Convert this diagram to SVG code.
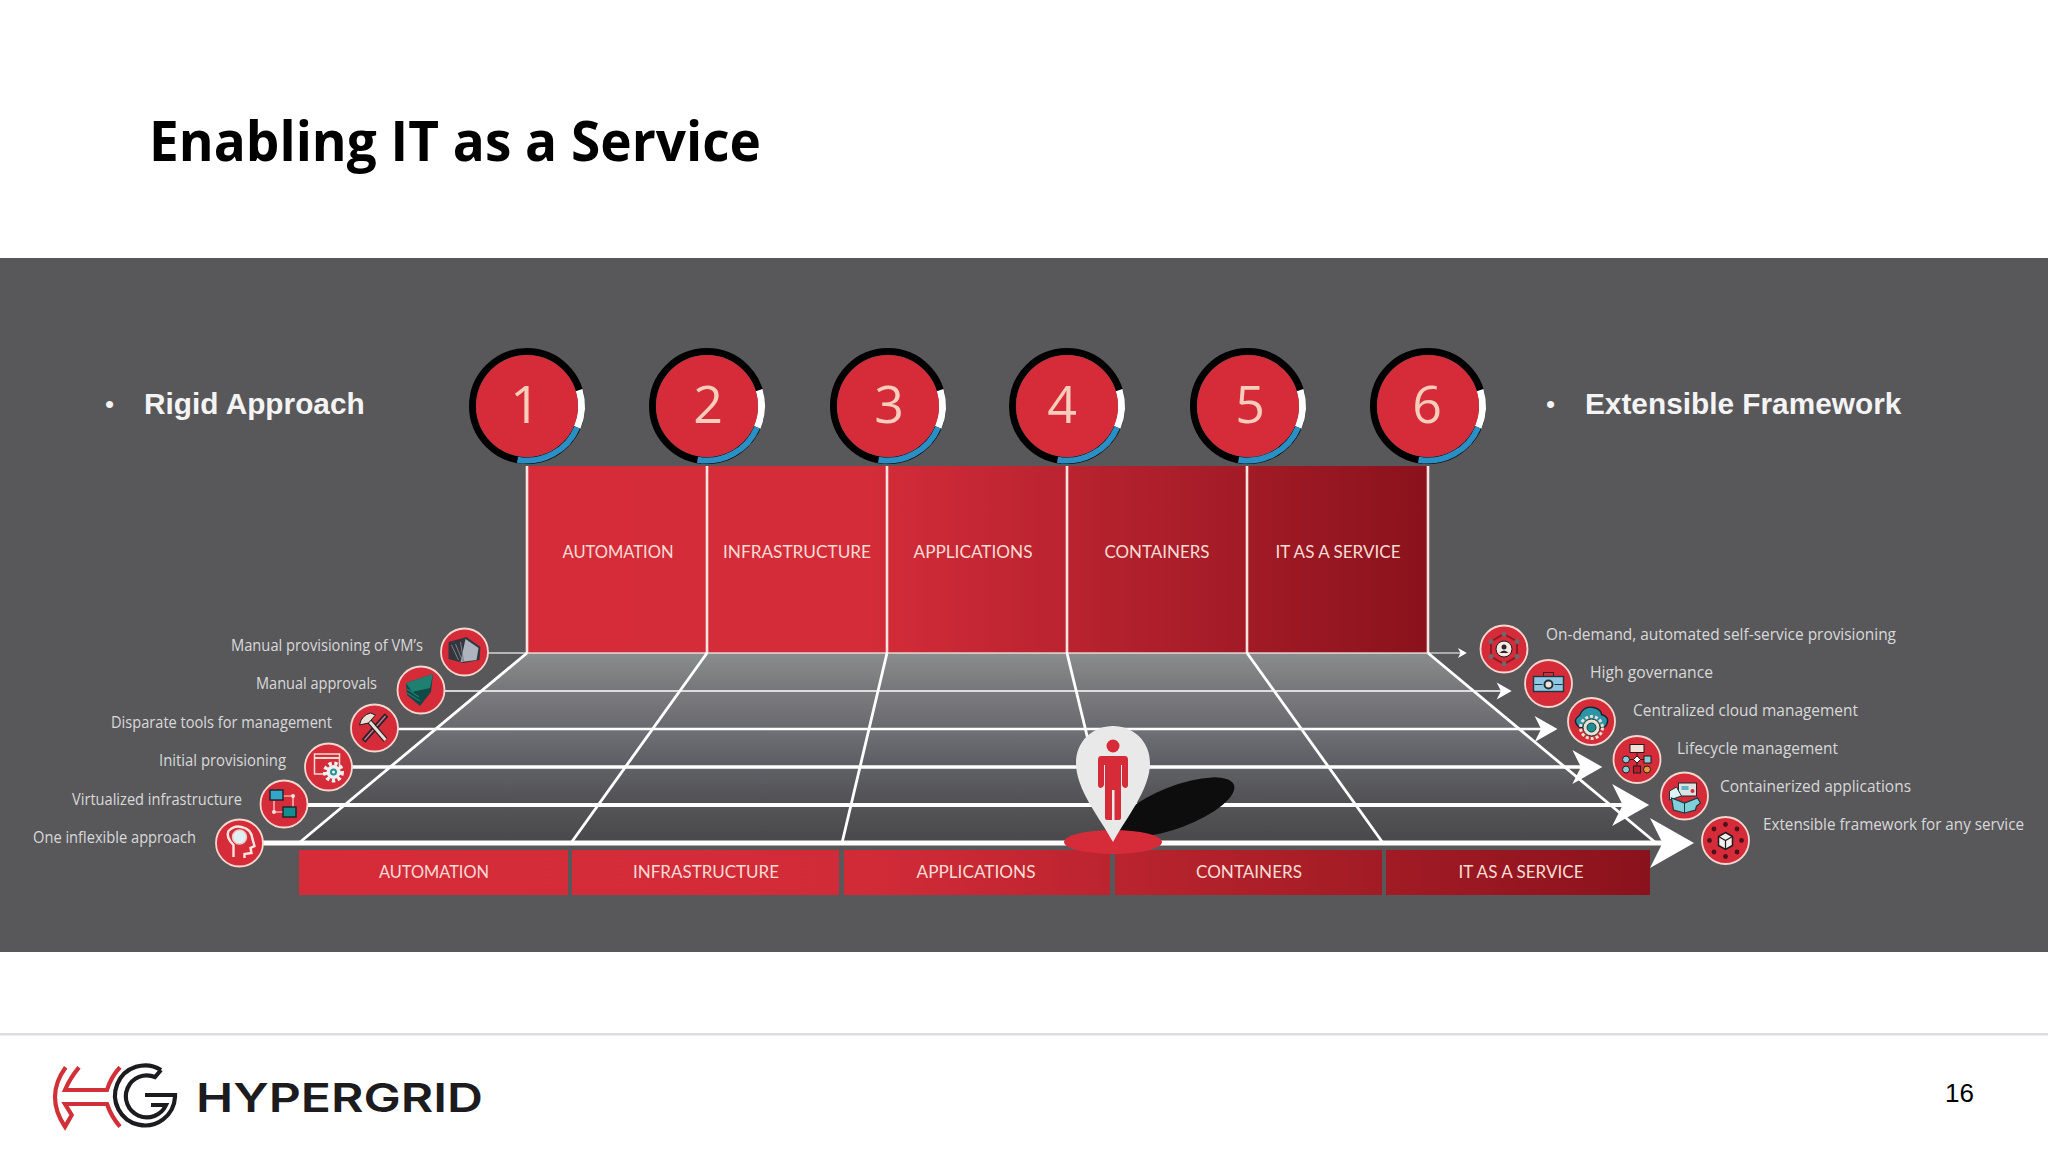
<svg xmlns="http://www.w3.org/2000/svg" width="2048" height="1152" viewBox="0 0 2048 1152">
<defs>
<linearGradient id="wall" gradientUnits="userSpaceOnUse" x1="527" y1="0" x2="1428" y2="0"><stop offset="0" stop-color="#d62c3a"/><stop offset="0.38" stop-color="#d42c39"/><stop offset="0.7" stop-color="#ad1f2b"/><stop offset="1" stop-color="#8a121c"/></linearGradient>
<linearGradient id="bar" gradientUnits="userSpaceOnUse" x1="299" y1="0" x2="1650" y2="0"><stop offset="0" stop-color="#d62c3a"/><stop offset="0.42" stop-color="#d22b38"/><stop offset="0.7" stop-color="#ae2029"/><stop offset="1" stop-color="#8a121c"/></linearGradient>
<linearGradient id="b1" x1="0" y1="0" x2="0" y2="1"><stop offset="0" stop-color="#8a8e8d"/><stop offset="1" stop-color="#757679"/></linearGradient>
<linearGradient id="b2" x1="0" y1="0" x2="0" y2="1"><stop offset="0" stop-color="#7b7b80"/><stop offset="1" stop-color="#68696e"/></linearGradient>
<linearGradient id="b3" x1="0" y1="0" x2="0" y2="1"><stop offset="0" stop-color="#707177"/><stop offset="1" stop-color="#5c5d62"/></linearGradient>
<linearGradient id="b4" x1="0" y1="0" x2="0" y2="1"><stop offset="0" stop-color="#616267"/><stop offset="1" stop-color="#505053"/></linearGradient>
<linearGradient id="b5" x1="0" y1="0" x2="0" y2="1"><stop offset="0" stop-color="#555558"/><stop offset="1" stop-color="#48474a"/></linearGradient>
<marker id="head" viewBox="0 0 9 10" refX="7" refY="5" markerWidth="9" markerHeight="10" markerUnits="strokeWidth" orient="auto" overflow="visible"><path d="M0,0 L8.800,5 L0,10 L2.500,5 Z" fill="#fff"/></marker>
<g id="ring">
<circle r="54.5" fill="none" stroke="#000" stroke-width="7"/>
<path d="M52.1,-15.9 A54.5,54.5 0 0 1 50.2,21.3" fill="none" stroke="#fff" stroke-width="7"/>
<path d="M50.2,21.3 A54.5,54.5 0 0 1 -9.5,53.7" fill="none" stroke="#2a8fc4" stroke-width="6"/>
<circle r="51" fill="#d62c3a"/>
</g>
<g id="disc"><circle r="23.500" fill="#d62c3a" stroke="#f4d8d0" stroke-width="1.800"/></g>
<g id="gear"><circle r="8.500" fill="none" stroke="#eaf1f0" stroke-width="4" stroke-dasharray="3.300 2.500"/><circle r="7" fill="#eaf1f0"/><circle r="3.500" fill="#2a8f98"/><circle r="1.500" fill="#eaf1f0"/></g>
</defs>
<style>
.title{font-family:"Open Sans","Liberation Sans",sans-serif;font-weight:700;font-size:55px;fill:#000}
.big{font-family:"Liberation Sans",Arial,sans-serif;font-weight:700;font-size:29.800px;fill:#f4f4f4}
.bul{font-family:"Liberation Sans",Arial,sans-serif;font-size:26px;fill:#f4f4f4}
.num{font-family:"Open Sans","Liberation Sans",sans-serif;font-weight:400;font-size:52px;fill:#f8cdbb;text-anchor:middle}
.cap{font-family:Lato,"Liberation Sans",sans-serif;font-size:18px;fill:#f9dcd6;text-anchor:middle}
.lab{font-family:"Open Sans","Liberation Sans",sans-serif;font-size:15.500px;fill:#d9d9d9}
.end{text-anchor:end}
.hl{fill:none;stroke:#fff;marker-end:url(#head)}
.stub{fill:none;stroke:#fff}
.grid{fill:none;stroke:#fff;stroke-width:2.800}
.sep{stroke:#fbe3e0;stroke-width:2.600;fill:none}
.ln{fill:none;stroke:#1a1d22;stroke-width:1.200}
.cr{fill:none;stroke:#fbe6de;stroke-width:2.400}
</style>
<rect width="2048" height="1152" fill="#fff"/>
<rect id="panel" x="0" y="258" width="2048" height="694" fill="#58585b"/>
<text class="title" x="149" y="161" textLength="612" lengthAdjust="spacingAndGlyphs">Enabling IT as a Service</text>
<g id="left-heading"><text class="bul" x="105" y="413">•</text><text class="big" x="144" y="414">Rigid Approach</text></g>
<g id="right-heading"><text class="bul" x="1546" y="413">•</text><text class="big" x="1585" y="414">Extensible Framework</text></g>

<g id="wall-block">
<rect x="527" y="466" width="901" height="187" fill="url(#wall)"/>
</g>
<g id="floor">
<polygon points="527,653 1428,653 1473.600,691 481.400,691" fill="url(#b1)"/>
<polygon points="481.400,691 1473.600,691 1519.200,729 435.800,729" fill="url(#b2)"/>
<polygon points="435.800,729 1519.200,729 1564.800,767 390.200,767" fill="url(#b3)"/>
<polygon points="390.200,767 1564.800,767 1610.400,805 344.600,805" fill="url(#b4)"/>
<polygon points="344.600,805 1610.400,805 1656,843 299,843" fill="url(#b5)"/>
</g>
<g id="connectors">
<path class="grid" d="M527,653 L299,843 M707,653 L571,843 M887,653 L842,843 M1067,653 L1113,843 M1247,653 L1383,843 M1428,653 L1656,843"/>
<path class="sep" d="M527,466V653M707,466V653M887,466V653M1067,466V653M1247,466V653M1428,466V653"/>
<line class="stub" x1="487" y1="653" x2="1428" y2="653" stroke-width="1.300" opacity="0.75"/>
<line class="hl" x1="1428" y1="653" x2="1465" y2="653" stroke-width="1"/>
<line class="hl" x1="444" y1="691" x2="1508.600" y2="691" stroke-width="1.700"/>
<line class="hl" x1="397" y1="729" x2="1552.800" y2="729" stroke-width="2.600"/>
<line class="hl" x1="352" y1="767" x2="1596.200" y2="767" stroke-width="3.400"/>
<line class="hl" x1="307" y1="805" x2="1641.600" y2="805" stroke-width="4.200"/>
<line class="hl" x1="262" y1="843" x2="1685" y2="843" stroke-width="5"/>
</g>

<g id="step-1"><use href="#ring" x="527" y="406"/><text class="num" x="525" y="423">1</text></g>
<g id="step-2"><use href="#ring" x="707" y="406"/><text class="num" x="708" y="423">2</text></g>
<g id="step-3"><use href="#ring" x="888" y="406"/><text class="num" x="889" y="423">3</text></g>
<g id="step-4"><use href="#ring" x="1067" y="406"/><text class="num" x="1062" y="423">4</text></g>
<g id="step-5"><use href="#ring" x="1248" y="406"/><text class="num" x="1250" y="423">5</text></g>
<g id="step-6"><use href="#ring" x="1428" y="406"/><text class="num" x="1427" y="423">6</text></g>

<g id="wall-labels">
<text class="cap" x="618" y="558" textLength="111" lengthAdjust="spacingAndGlyphs">AUTOMATION</text>
<text class="cap" x="797" y="558" textLength="148" lengthAdjust="spacingAndGlyphs">INFRASTRUCTURE</text>
<text class="cap" x="973" y="558" textLength="119" lengthAdjust="spacingAndGlyphs">APPLICATIONS</text>
<text class="cap" x="1157" y="558" textLength="105" lengthAdjust="spacingAndGlyphs">CONTAINERS</text>
<text class="cap" x="1338" y="558" textLength="125" lengthAdjust="spacingAndGlyphs">IT AS A SERVICE</text>
</g>
<g id="bar-automation"><rect x="299" y="850" width="269" height="45" fill="url(#bar)"/><text class="cap" x="434" y="878" textLength="110" lengthAdjust="spacingAndGlyphs">AUTOMATION</text></g>
<g id="bar-infrastructure"><rect x="572" y="850" width="267" height="45" fill="url(#bar)"/><text class="cap" x="706" y="878" textLength="146" lengthAdjust="spacingAndGlyphs">INFRASTRUCTURE</text></g>
<g id="bar-applications"><rect x="844" y="850" width="266" height="45" fill="url(#bar)"/><text class="cap" x="976" y="878" textLength="119" lengthAdjust="spacingAndGlyphs">APPLICATIONS</text></g>
<g id="bar-containers"><rect x="1115" y="850" width="267" height="45" fill="url(#bar)"/><text class="cap" x="1249" y="878" textLength="106" lengthAdjust="spacingAndGlyphs">CONTAINERS</text></g>
<g id="bar-service"><rect x="1386" y="850" width="264" height="45" fill="url(#bar)"/><text class="cap" x="1521" y="878" textLength="125" lengthAdjust="spacingAndGlyphs">IT AS A SERVICE</text></g>

<g id="person-pin">
<ellipse cx="1176" cy="807" rx="62" ry="21" transform="rotate(-21 1176 807)" fill="#0d0d0e"/>
<ellipse cx="1113" cy="842" rx="49" ry="12" fill="#d62c3a"/>
<path d="M1113,842 C1100,818 1076,790 1076,763 C1076,741 1093,726 1113,726 C1133,726 1150,741 1150,763 C1150,790 1126,818 1113,842 Z" fill="#e9e9e9"/>
<circle cx="1113" cy="746" r="6.500" fill="#d62c3a"/>
<path d="M1101,756 H1125 Q1128,756 1128,760 V785 Q1128,788 1125,788 Q1123,788 1122,785 V765 H1121 V818 Q1121,820 1118,820 H1114.500 V790 H1112 V820 H1108 Q1105,820 1105,818 V765 H1104 V785 Q1103,788 1101,788 Q1098,788 1098,785 V760 Q1098,756 1101,756 Z" fill="#d62c3a"/>
</g>

<g id="left-1"><g transform="translate(464.500 652)"><use href="#disc"/><polygon points="-16,-10 2,-15 16,-5 15,8 -1,11 -16,7" fill="#33363c"/><polygon points="1,-13 14,-4 12,8 -4,10" fill="#aeb4be"/><path d="M-13,-7L-6,8M-9,-8L-2,9M-4,-10L-1,9" stroke="#7d838c" stroke-width="1" fill="none"/></g><text class="lab end" x="423" y="651" textLength="192" lengthAdjust="spacingAndGlyphs">Manual provisioning of VM’s</text></g>
<g id="left-2"><g transform="translate(421 690)"><use href="#disc"/><polygon points="-15,-7 12,-16 10,2 -1,16 -14,5" fill="#0f4a47"/><polygon points="-15,-7 12,-16 9,-2 -9,2" fill="#1f8071"/><path d="M-14,-1L-2,7M-14,3L-1,11" stroke="#1f7d72" stroke-width="1.400" fill="none"/></g><text class="lab end" x="377" y="689" textLength="121" lengthAdjust="spacingAndGlyphs">Manual approvals</text></g>
<g id="left-3"><g transform="translate(374.500 728)"><use href="#disc"/><path d="M12,-13L-11,13" stroke="#23262c" stroke-width="5" fill="none"/><path d="M11,-12L-10,12" stroke="#d9708a" stroke-width="1.500" fill="none"/><path d="M-8,-10L11,12" stroke="#1a1d22" stroke-width="5" fill="none"/><path d="M-8,-10L11,12" stroke="#eadfd4" stroke-width="3" fill="none"/><path d="M-15,-3Q-13,-13 -4,-15L1,-13L-6,-5Z" fill="#eadfd4" stroke="#1a1d22"/></g><text class="lab end" x="332" y="728" textLength="221" lengthAdjust="spacingAndGlyphs">Disparate tools for management</text></g>
<g id="left-4"><g transform="translate(328.500 767)"><use href="#disc"/><rect x="-14" y="-13" width="25" height="20" fill="none" stroke="#f4dcd2" stroke-width="1.500"/><path d="M-14,-9H11" stroke="#f4dcd2" stroke-width="2"/><use href="#gear" x="5" y="5"/></g><text class="lab end" x="286" y="766" textLength="127" lengthAdjust="spacingAndGlyphs">Initial provisioning</text></g>
<g id="left-5"><g transform="translate(284 804)"><use href="#disc"/><path d="M-1,-8H9V7M-10,-3V8H0" class="ln" stroke="#f4e3da" style="stroke:#f4e3da"/><circle cx="9" cy="-8" r="2" fill="#f4e3da"/><circle cx="-10" cy="8" r="2" fill="#f4e3da"/><rect x="-14" y="-14" width="13" height="10" fill="#34a6c6" stroke="#16242c" stroke-width="1.400"/><rect x="-1" y="3" width="13" height="10" fill="#178e8e" stroke="#16242c" stroke-width="1.400"/></g><text class="lab end" x="242" y="805" textLength="170" lengthAdjust="spacingAndGlyphs">Virtualized infrastructure</text></g>
<g id="left-6"><g transform="translate(239.500 843)"><use href="#disc"/><circle cx="0" cy="-6" r="7" fill="#dff0f5" stroke="#f0c4c0" stroke-width="1.500"/><path class="cr" d="M-6,14V2Q-14,-6 -11,-12Q-5,-18 2,-16Q12,-14 13,-4L15,3L11,5L12,10L5,11V15"/></g><text class="lab end" x="196" y="843" textLength="163" lengthAdjust="spacingAndGlyphs">One inflexible approach</text></g>

<g id="right-1"><g transform="translate(1504 649)"><use href="#disc"/><polygon points="0,-15 13,-7.500 13,7.500 0,15 -13,7.500 -13,-7.500" fill="none" stroke="#8a1a24" stroke-width="2"/><g fill="#71666a"><circle cx="0" cy="-15" r="2.500"/><circle cx="13" cy="-7.500" r="2.500"/><circle cx="13" cy="7.500" r="2.500"/><circle cx="0" cy="15" r="2.500"/><circle cx="-13" cy="7.500" r="2.500"/><circle cx="-13" cy="-7.500" r="2.500"/></g><circle r="8" fill="#f6e9e2" stroke="#1a1d22" stroke-width="1"/><circle cy="-2" r="2.500" fill="#2b2427"/><path d="M-4.500,4Q0,-1 4.500,4Z" fill="#2b2427"/></g><text class="lab" x="1546" y="640" textLength="350" lengthAdjust="spacingAndGlyphs">On-demand, automated self-service provisioning</text></g>
<g id="right-2"><g transform="translate(1548.500 683.500)"><use href="#disc"/><rect x="-5" y="-11" width="10" height="4" fill="none" stroke="#3b2226"/><rect x="-15" y="-7" width="30" height="15" fill="#8fc6e2" stroke="#22323f" stroke-width="1.400"/><path d="M-14,1H-6M6,1H14" stroke="#22323f"/><circle cy="1" r="4" fill="#f4e3da" stroke="#22323f" stroke-width="2"/></g><text class="lab" x="1590" y="678" textLength="123" lengthAdjust="spacingAndGlyphs">High governance</text></g>
<g id="right-3"><g transform="translate(1591.500 721.500)"><use href="#disc"/><path d="M-12,6Q-20,-1 -12,-6Q-8,-16 2,-14Q10,-12 10,-7Q19,-4 15,3Q14,6 10,6Z" fill="#2d93a6" stroke="#10252c" stroke-width="1.400"/><circle cy="6" r="11" fill="none" stroke="#e8e0d2" stroke-width="3" stroke-dasharray="3 2"/><circle cy="6" r="8.500" fill="#e8e0d2" stroke="#333" stroke-width="1"/><circle cy="6" r="4.500" fill="#1c8f92" stroke="#123c44"/></g><text class="lab" x="1633" y="716" textLength="225" lengthAdjust="spacingAndGlyphs">Centralized cloud management</text></g>
<g id="right-4"><g transform="translate(1637 759.500)"><use href="#disc"/><path d="M0,-8V10M-11,0H10" stroke="#3a1015" fill="none"/><g stroke="#1d1b1e"><rect x="-7" y="-15" width="14" height="8" fill="#f2e2d6"/><circle cx="-11" cy="0" r="3.500" fill="#8bc9d6"/><polygon points="0,-3.500 3.500,0 0,3.500 -3.500,0" fill="#fff"/><rect x="7" y="-3.500" width="7" height="7" fill="#8bc9d6"/><circle cx="-11" cy="10" r="3.500" fill="#8bc9d6"/><rect x="-3.500" y="6.500" width="7" height="7" fill="#b3202c"/><circle cx="10" cy="10" r="3.500" fill="#e59a3a"/></g></g><text class="lab" x="1677" y="754" textLength="161" lengthAdjust="spacingAndGlyphs">Lifecycle management</text></g>
<g id="right-5"><g transform="translate(1684.500 796)"><use href="#disc"/><rect x="-6" y="-13" width="18" height="13" fill="#dce4e2" stroke="#22262a"/><rect x="-3" y="-10" width="7" height="4" fill="#5fb4c8"/><circle cx="8" cy="-5" r="2" fill="#d62c3a"/><polygon points="-15,-5 -8,-9 -3,0 -15,4" fill="#dff3f4" stroke="#123c44"/><polygon points="-13,2 0,7 13,2 16,7 12,10 11,14 0,17 -11,14" fill="#7fd0d8" stroke="#123c44" stroke-width="1.200"/><path d="M0,7V17" stroke="#123c44"/></g><text class="lab" x="1720" y="792" textLength="191" lengthAdjust="spacingAndGlyphs">Containerized applications</text></g>
<g id="right-6"><g transform="translate(1725.500 840.500)"><use href="#disc"/><polygon points="0,-8 7,-4 7,5 0,9 -7,5 -7,-4" fill="#f4eee8" stroke="#1c1c20" stroke-width="1.500"/><path d="M-7,-4L0,0L7,-4M0,0V9" stroke="#1c1c20" stroke-width="1.200" fill="none"/><g fill="#4b1218"><circle cx="0" cy="-16" r="2.400"/><circle cx="11.500" cy="-11.500" r="2.400"/><circle cx="16" cy="0" r="2.400"/><circle cx="11.500" cy="11.500" r="2.400"/><circle cx="0" cy="16" r="2.400"/><circle cx="-11.500" cy="11.500" r="2.400"/><circle cx="-16" cy="0" r="2.400"/><circle cx="-11.500" cy="-11.500" r="2.400"/></g></g><text class="lab" x="1763" y="830" textLength="261" lengthAdjust="spacingAndGlyphs">Extensible framework for any service</text></g>

<rect id="footer-rule" x="0" y="1033" width="2048" height="2.500" fill="#dcdce0"/>
<g id="logo">
<path d="M65.700,1067.300Q55,1082 55,1097Q55,1112 65,1126.700L71.700,1115L65,1104H107Q111,1116 120,1126.700M79,1067.300Q70,1078 65,1090H107Q111,1077 120,1067.300" fill="none" stroke="#d23038" stroke-width="4.200"/>
<path d="M161,1070A30,30 0 1 0 175,1097V1095H145" fill="none" stroke="#1c1c1e" stroke-width="4.200"/>
<path d="M161,1070L155,1077A21,21 0 1 0 166,1105L151,1105" fill="none" stroke="#1c1c1e" stroke-width="4.200"/>
<text x="196" y="1112" font-family="Inter, Liberation Sans, Arial, sans-serif" font-weight="600" font-size="40" fill="#1c1c1e" textLength="287" lengthAdjust="spacingAndGlyphs">HYPERGRID</text>
</g>
<text id="page-number" x="1945" y="1102" font-family="Liberation Sans, Arial, sans-serif" font-size="26" fill="#000">16</text>
</svg>
